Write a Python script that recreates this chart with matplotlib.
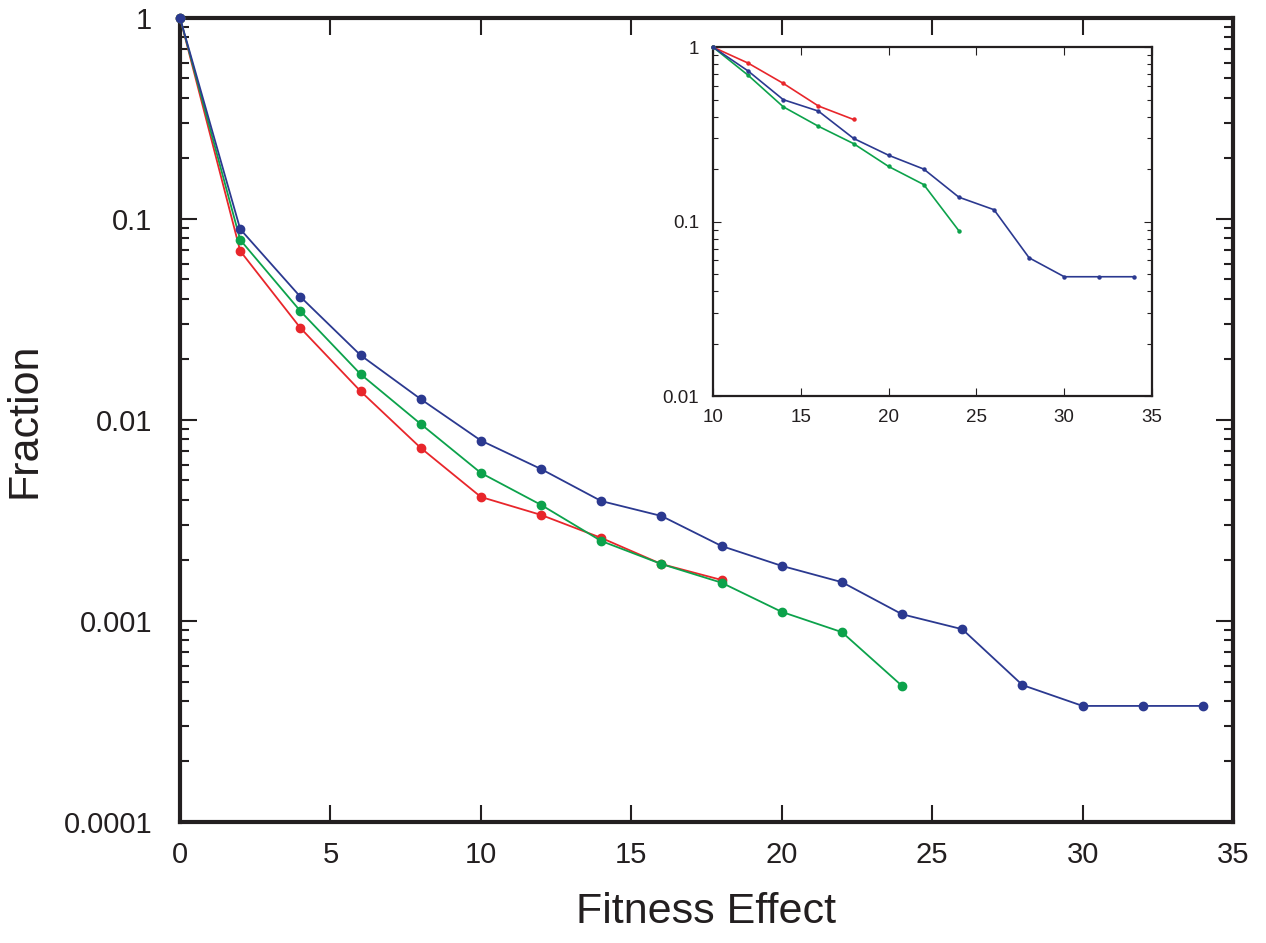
import matplotlib.pyplot as plt
from matplotlib.ticker import FixedLocator, FixedFormatter, LogLocator, NullFormatter

# ── Data ──────────────────────────────────────────────────────
x_red   = [0, 2, 4, 6, 8, 10, 12, 14, 16, 18]
y_red   = [1, 0.0693, 0.0287, 0.0139, 0.00726, 0.00414, 0.00337, 0.00259, 0.00192, 0.0016]
x_green = [0, 2, 4, 6, 8, 10, 12, 14, 16, 18, 20, 22, 24]
y_green = [1, 0.0787, 0.0348, 0.0169, 0.00955, 0.00545, 0.00378, 0.0025, 0.00192,
           0.00155, 0.00111, 0.00088, 0.000475]
x_blue  = [0, 2, 4, 6, 8, 10, 12, 14, 16, 18, 20, 22, 24, 26, 28, 30, 32, 34]
y_blue  = [1, 0.089, 0.041, 0.021, 0.0127, 0.0079, 0.0057, 0.00395, 0.00333, 0.00236,
           0.00188, 0.00156, 0.00108, 0.00091, 0.00048, 0.000378, 0.000378, 0.000378]

# inset: tails renormalised at x = 10
xi_red   = [10, 12, 14, 16, 18]
yi_red   = [1, 0.81, 0.62, 0.46, 0.385]
xi_green = [10, 12, 14, 16, 18, 20, 22, 24]
yi_green = [1, 0.69, 0.455, 0.352, 0.28, 0.207, 0.163, 0.0886]
xi_blue  = [10, 12, 14, 16, 18, 20, 22, 24, 26, 28, 30, 32, 34]
yi_blue  = [1, 0.73, 0.50, 0.43, 0.30, 0.24, 0.20, 0.138, 0.117, 0.062, 0.0483, 0.0483, 0.0483]

main_yticks  = [1, 0.1, 0.01, 0.001, 0.0001]
main_ylabels = ["1", "0.1", "0.01", "0.001", "0.0001"]
inset_yticks  = [1, 0.1, 0.01]
inset_ylabels = ["1", "0.1", "0.01"]

RED, GREEN, BLUE = "#e8262b", "#0ca24b", "#2b3990"
FAMILY = ["Liberation Sans", "DejaVu Sans"]
plt.rcParams["font.family"] = FAMILY


def style_axes(ax, yticks, ylabels, xticks, lw, size, fs):
    ax.set_yscale("log")
    ax.yaxis.set_major_locator(FixedLocator(yticks))
    ax.yaxis.set_major_formatter(FixedFormatter(ylabels))
    ax.yaxis.set_minor_locator(LogLocator(base=10, subs=range(2, 10), numticks=20))
    ax.yaxis.set_minor_formatter(NullFormatter())
    ax.set_xticks(xticks)
    ax.tick_params(which="both", direction="in", top=True, right=True,
                   width=lw * 0.5, labelsize=fs, colors="#231f20")
    ax.tick_params(which="major", length=size)
    ax.tick_params(which="minor", length=size * 0.55)
    ax.tick_params(axis="x", which="minor", top=False, bottom=False)
    for s in ax.spines.values():
        s.set_linewidth(lw)
        s.set_color("#231f20")


fig = plt.figure(figsize=(12.66, 9.43), dpi=100)
ax = fig.add_axes([0.1422, 0.1283, 0.8318, 0.8527])

ax.plot(x_red, y_red, "-o", color=RED, lw=1.3, ms=6, zorder=3, clip_on=False)
ax.plot(x_green, y_green, "-o", color=GREEN, lw=1.3, ms=6, zorder=3, clip_on=False)
ax.plot(x_blue, y_blue, "-o", color=BLUE, lw=1.3, ms=6, zorder=4, clip_on=False)

ax.set_xlim(0, 35)
ax.set_ylim(0.0001, 1)
style_axes(ax, main_yticks, main_ylabels, [0, 5, 10, 15, 20, 25, 30, 35], 3, 12, 21)
ax.tick_params(axis="x", pad=14)
ax.tick_params(axis="y", pad=20)
ax.set_xlabel("Fitness Effect", fontsize=31, labelpad=16, color="#231f20")
ax.set_ylabel("Fraction", fontsize=31, labelpad=14, color="#231f20")

# ── Inset ─────────────────────────────────────────────────────
axi = fig.add_axes([0.5632, 0.580, 0.3468, 0.370])
axi.plot(xi_red, yi_red, "-o", color=RED, lw=1.2, ms=2.2, zorder=3, clip_on=False)
axi.plot(xi_green, yi_green, "-o", color=GREEN, lw=1.2, ms=2.2, zorder=3, clip_on=False)
axi.plot(xi_blue, yi_blue, "-o", color=BLUE, lw=1.2, ms=2.2, zorder=4, clip_on=False)
axi.set_xlim(10, 35)
axi.set_ylim(0.01, 1)
style_axes(axi, inset_yticks, inset_ylabels, [10, 15, 20, 25, 30, 35], 1.6, 6, 13.5)
axi.tick_params(axis="y", pad=10)
axi.tick_params(axis="x", pad=9)

fig.savefig("out.png", dpi=100)
